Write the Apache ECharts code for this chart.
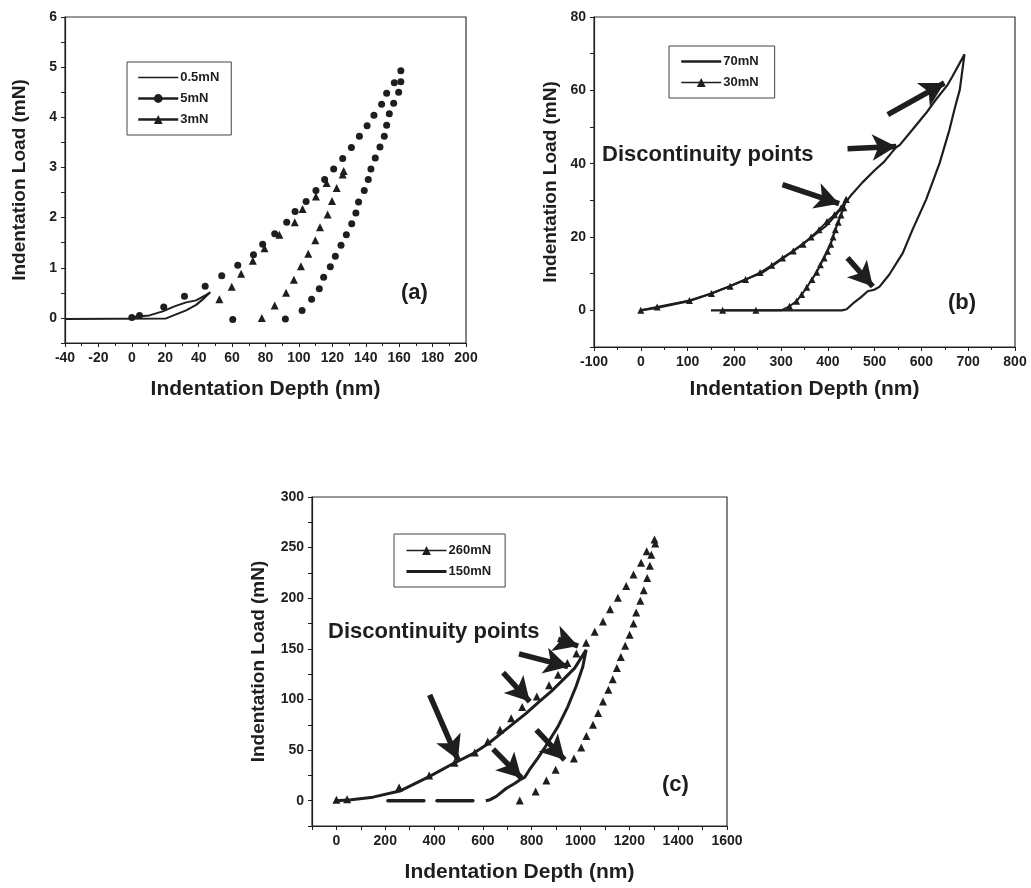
<!DOCTYPE html>
<html>
<head>
<meta charset="utf-8">
<script src="https://cdn.jsdelivr.net/npm/echarts@6/dist/echarts.min.js"></script>
<style>
html, body { margin: 0; background: #fff; }
#main { width: 1031px; height: 888px; }
</style>
</head>
<body>
<div id="main"></div>
<script>
// ---- panel (a) : depth (nm), load (mN)
var a05Load = [[0, 0.02], [10.5, 0.05], [18.5, 0.13], [25.5, 0.23], [32.5, 0.31], [38.5, 0.35], [44.5, 0.46], [47, 0.51]];
var a05Unload = [[47, 0.51], [43.5, 0.4], [38.5, 0.26], [32.5, 0.15], [26.5, 0.07], [20.5, -0.01], [-40, -0.02]];
var a5Load = [[0, 0.01], [4.6, 0.05], [19.1, 0.22], [31.5, 0.43], [43.9, 0.63], [53.8, 0.84], [63.4, 1.05], [72.8, 1.26],
  [78.3, 1.47], [85.5, 1.68], [92.7, 1.91], [97.7, 2.12], [104.3, 2.32], [110.2, 2.54], [115.4, 2.76], [120.8, 2.97],
  [126.2, 3.18], [131.4, 3.4], [136.2, 3.62], [140.8, 3.83], [144.9, 4.04], [149.5, 4.26], [152.5, 4.48], [157.1, 4.69], [161, 4.93]];
var a5Unload = [[161, 4.71], [159.7, 4.5], [156.7, 4.28], [154.1, 4.07], [152.5, 3.84], [151.1, 3.62], [148.5, 3.41], [145.7, 3.19],
  [143.1, 2.97], [141.5, 2.76], [139.1, 2.54], [135.7, 2.31], [134.1, 2.09], [131.6, 1.88], [128.4, 1.66], [125.2, 1.45],
  [121.8, 1.23], [118.8, 1.02], [114.8, 0.81], [112.2, 0.58], [107.6, 0.37], [101.9, 0.15], [91.9, -0.02], [60.4, -0.03]];
var a3Load = [[52.4, 0.37], [59.8, 0.62], [65.4, 0.88], [72.4, 1.14], [79.4, 1.39], [88.3, 1.66], [97.5, 1.91], [102.2, 2.17],
  [110.2, 2.42], [116.6, 2.69], [126.2, 2.86], [126.8, 2.93]];
var a3Unload = [[122.6, 2.59], [119.8, 2.33], [117.2, 2.06], [112.6, 1.81], [109.8, 1.55], [105.6, 1.28], [101.2, 1.03],
  [97, 0.76], [92.3, 0.5], [85.5, 0.25], [77.8, 0]];

// ---- panel (b)
var b70Load = [[0, 0], [31, 0.6], [103, 2.5], [149, 4.5], [189, 6.5], [224, 8.4], [260, 10.3], [280, 12], [324, 16], [364, 19.8],
  [396, 23], [417, 26], [435, 29], [449, 31.3], [474, 34.9], [500, 38.2], [520, 40.5], [546, 44.5], [553, 45], [581, 49.3],
  [610, 53.8], [631, 57.5], [656, 61.5], [667, 64], [692, 69.8]];
var b70Unload = [[692, 69.8], [682, 60.2], [671, 55], [660, 49.3], [639, 40.2], [610, 30.2], [581, 22], [560, 15.6], [531, 9.7],
  [510, 6.4], [499, 5.6], [485, 5.2], [471, 3.6], [453, 1.8], [440, 0.3], [430, 0], [150, 0]];
var b30Load = [[0, 0], [35, 0.9], [104, 2.7], [151, 4.6], [191, 6.6], [224, 8.4], [255, 10.3], [280, 12.3], [303, 14.3],
  [326, 16.2], [347, 18], [364, 20], [381, 22], [398, 24.2], [414, 26.1], [428, 27.9], [439, 30.2]];
var b30Unload = [[439, 30.2], [434, 28], [428, 26], [422, 24], [416, 22], [411, 20], [406, 18], [399, 16.1], [392, 14.3],
  [384, 12.4], [376, 10.4], [366, 8.4], [355, 6.3], [344, 4.3], [333, 2.5], [318, 1.1]];
var b30Knee = [300, 0];
var b30Flat = [[246, 0], [175, 0]];

// ---- panel (c)
var c260Load = [[0, 1], [44, 1.5], [257, 13], [380, 25], [484, 37.5], [567, 47.5], [620, 58.5], [670, 70], [716, 81.5],
  [761, 92.5], [821, 103], [871, 114], [908, 124.5], [946, 136], [983, 145.5], [1023, 156], [1058, 167], [1092, 177],
  [1121, 189], [1153, 200.5], [1187, 212], [1217, 223.5], [1248, 235], [1271, 246.5], [1303, 258]];
var c260Unload = [[1306, 254], [1290, 243], [1284, 232], [1273, 220], [1259, 208], [1245, 197.5], [1228, 186], [1217, 175],
  [1201, 164], [1183, 153], [1165, 142], [1149, 131], [1132, 120], [1114, 109.6], [1092, 98], [1072, 86.6], [1051, 75],
  [1024, 64], [1003, 52.6], [973, 41.7], [898, 30.6], [860, 20], [816, 9.2], [751, 0.3]];
var c150Load = [[0, 0], [60, 1], [150, 3.5], [259, 9.5], [382, 24], [477, 36.5], [560, 46.5], [620, 56], [695, 70.5],
  [777, 86.3], [832, 98], [880, 108], [928, 119.3], [976, 131], [1023, 149]];
var c150Unload = [[1023, 149], [1009, 132], [982, 113], [948, 93], [907, 73], [866, 57], [825, 42], [791, 30.6], [771, 23],
  [757, 21.4], [730, 17], [695, 12], [655, 4.3], [630, 1], [612, 0]];
var c150Flat = [[211, 0], [612, 0]];

// arrows pointing at the discontinuity points: [from, to] in data units
var bArrows = [[[528, 53.4], [649, 62]], [[442, 44.1], [546, 44.7]], [[303, 34.3], [424, 29.1]], [[442, 14.3], [496, 6.5]]];
var cArrows = [[[382, 104.5], [498, 40.4]], [[683, 126.5], [792, 97.9]], [[748, 145], [949, 132.4]],
  [[908, 159.4], [990, 152.8]], [[642, 51], [758, 22.4]], [[819, 70], [935, 40.4]]];

var INK = '#1e1e1e';
var FONT = '"Liberation Sans", Arial, sans-serif';

function labelEvery(step) {
  return function (v) {
    var k = v / step;
    if (v < 0 || Math.abs(k - Math.round(k)) > 1e-6) return '';
    return String(Math.round(v * 100) / 100);
  };
}

function xAxisOf(gi, min, max, interval, step, gap, minor) {
  return {
    type: 'value', gridIndex: gi, min: min, max: max, interval: interval,
    name: 'Indentation Depth (nm)', nameLocation: 'middle', nameGap: gap,
    nameTextStyle: { fontFamily: FONT, fontWeight: 'bold', fontSize: 21, color: INK },
    axisLine: { show: true, onZero: false, lineStyle: { color: INK, width: 1.2 } },
    axisTick: { show: true, inside: false, length: 4, lineStyle: { color: INK } },
    minorTick: { show: minor, splitNumber: 2, length: 3, lineStyle: { color: INK } },
    splitLine: { show: false },
    axisLabel: { margin: 8, fontFamily: FONT, fontWeight: 'bold', fontSize: 14, color: INK,
      formatter: function (v) { var k = v / step; return Math.abs(k - Math.round(k)) > 1e-6 ? '' : String(v); } }
  };
}

function yAxisOf(gi, min, max, interval, step, gap) {
  return {
    type: 'value', gridIndex: gi, min: min, max: max, interval: interval,
    name: 'Indentation Load (mN)', nameLocation: 'middle', nameGap: gap,
    nameTextStyle: { fontFamily: FONT, fontWeight: 'bold', fontSize: 19, color: INK },
    axisLine: { show: true, onZero: false, lineStyle: { color: INK, width: 1.2 } },
    axisTick: { show: true, inside: false, length: 4, lineStyle: { color: INK } },
    splitLine: { show: false },
    axisLabel: { margin: 8, fontFamily: FONT, fontWeight: 'bold', fontSize: 14, color: INK, formatter: labelEvery(step) }
  };
}

function arrowLines(list) {
  return {
    silent: true, symbol: ['none', 'arrow'], symbolSize: [20, 24], animation: false,
    label: { show: false },
    lineStyle: { color: INK, width: 5.5, type: 'solid', opacity: 1 },
    data: list.map(function (p) { return [{ coord: p[0] }, { coord: p[1] }]; })
  };
}

function legendAt(left, top, names, pad, gap) {
  return {
    orient: 'vertical', left: left, top: top, padding: pad, itemGap: gap,
    itemWidth: 40, itemHeight: 11, borderColor: '#444', borderWidth: 1,
    textStyle: { fontFamily: FONT, fontWeight: 'bold', fontSize: 13, color: INK, padding: [0, 0, 0, -3] },
    itemStyle: { color: INK, borderWidth: 0 },
    lineStyle: { color: INK, opacity: 1 },
    data: names
  };
}

// legend entry for a plain line: keep the line, hide the symbol
function plainItem(name, w) {
  return { name: name, lineStyle: { width: w }, itemStyle: { opacity: 0, color: 'rgba(0,0,0,0)' } };
}

var markers = { lineStyle: { opacity: 0, width: 0 }, itemStyle: { color: INK }, showAllSymbol: true };

var option = {
  backgroundColor: '#fff',
  animation: false,
  grid: [
    { left: 65, top: 17, width: 401, height: 326, show: true, borderColor: '#333', borderWidth: 1.2 },
    { left: 594, top: 17, width: 421, height: 330, show: true, borderColor: '#333', borderWidth: 1.2 },
    { left: 312, top: 497, width: 415, height: 329, show: true, borderColor: '#333', borderWidth: 1.2 }
  ],
  xAxis: [
    xAxisOf(0, -40, 200, 20, 20, 36, true),
    xAxisOf(1, -100, 800, 100, 100, 32, true),
    xAxisOf(2, -100, 1600, 100, 200, 36, false)
  ],
  yAxis: [
    yAxisOf(0, -0.5, 6, 0.5, 1, 36),
    yAxisOf(1, -10, 80, 10, 20, 34),
    yAxisOf(2, -25, 300, 25, 50, 44)
  ],
  legend: [
    legendAt(127, 62, [plainItem('0.5mN', 1.5), { name: '5mN', lineStyle: { width: 2.5 } },
      { name: '3mN', lineStyle: { width: 2.5 } }], [9, 12, 9, 10], 8),
    legendAt(669, 46, [plainItem('70mN', 2.5), { name: '30mN', lineStyle: { width: 1.5 } }], [9, 16, 9, 11], 8),
    legendAt(394, 534, [{ name: '260mN', lineStyle: { width: 1.5 } }, plainItem('150mN', 3)], [10, 14, 9, 11], 8)
  ],
  graphic: [
    { type: 'text', left: 401, top: 282, style: { text: '(a)', font: 'bold 22px ' + FONT, fill: INK } },
    { type: 'text', left: 948, top: 292, style: { text: '(b)', font: 'bold 22px ' + FONT, fill: INK } },
    { type: 'text', left: 662, top: 774, style: { text: '(c)', font: 'bold 22px ' + FONT, fill: INK } },
    { type: 'text', left: 602, top: 144, style: { text: 'Discontinuity points', font: 'bold 22px ' + FONT, fill: INK } },
    { type: 'text', left: 328, top: 621, style: { text: 'Discontinuity points', font: 'bold 22px ' + FONT, fill: INK } }
  ],
  series: [
    { name: '0.5mN', type: 'line', xAxisIndex: 0, yAxisIndex: 0, symbol: 'none',
      lineStyle: { color: INK, width: 2 }, itemStyle: { color: INK }, data: a05Load.concat(a05Unload) },
    Object.assign({ name: '5mN', type: 'line', xAxisIndex: 0, yAxisIndex: 0, symbol: 'circle', symbolSize: 7,
      data: a5Load.concat(a5Unload) }, markers),
    Object.assign({ name: '3mN', type: 'line', xAxisIndex: 0, yAxisIndex: 0, symbol: 'triangle', symbolSize: 8,
      data: a3Load.concat(a3Unload) }, markers),

    { name: '70mN', type: 'line', xAxisIndex: 1, yAxisIndex: 1, symbol: 'none',
      lineStyle: { color: INK, width: 2.2 }, itemStyle: { color: INK },
      data: b70Load.concat(b70Unload), markLine: arrowLines(bArrows) },
    { name: '30mN', type: 'line', xAxisIndex: 1, yAxisIndex: 1, symbol: 'triangle', symbolSize: 7, showAllSymbol: true,
      lineStyle: { color: INK, width: 2 }, itemStyle: { color: INK },
      data: b30Load.concat(b30Unload, [{ value: b30Knee, symbol: 'none' }], b30Flat) },

    { name: '150mN', type: 'line', xAxisIndex: 2, yAxisIndex: 2, symbol: 'none',
      lineStyle: { color: INK, width: 3 }, itemStyle: { color: INK },
      data: c150Load.concat(c150Unload), markLine: arrowLines(cArrows) },
    { name: '150mN', type: 'line', xAxisIndex: 2, yAxisIndex: 2, symbol: 'none',
      lineStyle: { color: INK, width: 3.5, type: [36, 13], cap: 'round' }, data: c150Flat },
    Object.assign({ name: '260mN', type: 'line', xAxisIndex: 2, yAxisIndex: 2, symbol: 'triangle', symbolSize: 8,
      data: c260Load.concat(c260Unload) }, markers)
  ]
};

var chart = echarts.init(document.getElementById('main'), null, { renderer: 'canvas' });
chart.setOption(option);
</script>
</body>
</html>
